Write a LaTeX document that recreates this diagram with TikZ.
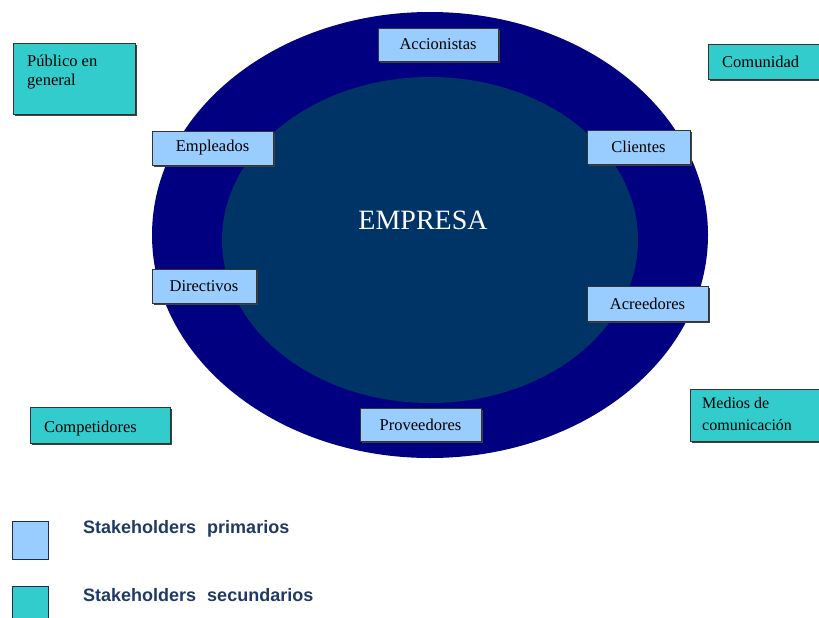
\documentclass[tikz,border=0pt]{standalone}
\usepackage{fontspec}
\setmainfont{Liberation Serif}
\newfontfamily\legendfont{Liberation Sans}
\usetikzlibrary{shapes.geometric,shadows}
\definecolor{ringblue}{HTML}{000080}
\definecolor{coreblue}{HTML}{003366}
\definecolor{primfill}{HTML}{99CCFF}
\definecolor{secfill}{HTML}{33CCCC}
\definecolor{legendtext}{HTML}{1F3A64}
\definecolor{boxline}{HTML}{333333}
\tikzset{
  boxshadow/.style={drop shadow={shadow xshift=1.6pt, shadow yshift=-1.6pt, fill=black!75, opacity=1}},
  primbox/.style={rectangle, draw=boxline, line width=0.6pt, fill=primfill, boxshadow,
    inner sep=0pt, font=\fontsize{16.5}{18}\selectfont},
  secbox/.style={draw=boxline, line width=0.6pt, fill=secfill, boxshadow},
  boxtext/.style={inner sep=0pt, align=left, font=\fontsize{16.5}{19}\selectfont},
  legendbox/.style={draw=legendtext!80!black, line width=1pt},
  legendlabel/.style={anchor=west, inner sep=0pt, text=legendtext,
    font=\legendfont\bfseries\fontsize{18}{20}\selectfont}
}
\begin{document}
\begin{tikzpicture}[x=1pt,y=-1pt]
\useasboundingbox (0,0) rectangle (819,618);
\clip (0,0) rectangle (819,618);

% company core: outer ring and inner disc
\node[ellipse, fill=ringblue, inner sep=0pt, minimum width=556pt, minimum height=446pt] (ring) at (430,235) {};
\node[ellipse, fill=coreblue, inner sep=0pt, minimum width=416pt, minimum height=326pt] (core) at (430,240) {};
\node[text=white, inner sep=0pt, font=\fontsize{28}{30}\selectfont] (empresa) at (423,220) {EMPRESA};

% primary stakeholders on the ring
\node[primbox, minimum width=120pt, minimum height=33pt] (acc) at (438,44.5) {Accionistas};
\node[primbox, minimum width=121pt, minimum height=34pt] (emp) at (212.5,148) {Empleados};
\node[primbox, minimum width=104pt, minimum height=34pt] (dir) at (204,286) {Directivos};
\node[primbox, minimum width=103pt, minimum height=34pt] (cli) at (638.5,147) {Clientes};
\node[primbox, minimum width=121pt, minimum height=35pt] (acr) at (647.5,303.5) {Acreedores};
\node[primbox, minimum width=121pt, minimum height=33pt] (pro) at (420.5,425) {Proveedores};

% secondary stakeholders around the company
\fill[secbox] (13,43) rectangle (135,114);
\node[boxtext, anchor=north west] (pub) at (27,55) {Público en\\general};
\fill[secbox] (708,44) rectangle (822,79);
\node[boxtext, anchor=west] (com) at (722,62) {Comunidad};
\fill[secbox] (30,407) rectangle (170,443);
\node[boxtext, anchor=west] (cmp) at (44,429) {Competidores};
\fill[secbox] (690,389) rectangle (822,441);
\node[boxtext, anchor=north west, font=\fontsize{16}{22}\selectfont] (med) at (702,397) {Medios de\\comunicación};

% legend
\draw[legendbox, fill=primfill] (12,521) rectangle (48,559);
\node[legendlabel] (lp) at (83,529) {Stakeholders\hspace{6pt} primarios};
\draw[legendbox, fill=secfill] (12,586) rectangle (48,628);
\node[legendlabel] (ls) at (83,595) {Stakeholders\hspace{6pt} secundarios};
\end{tikzpicture}
\end{document}
